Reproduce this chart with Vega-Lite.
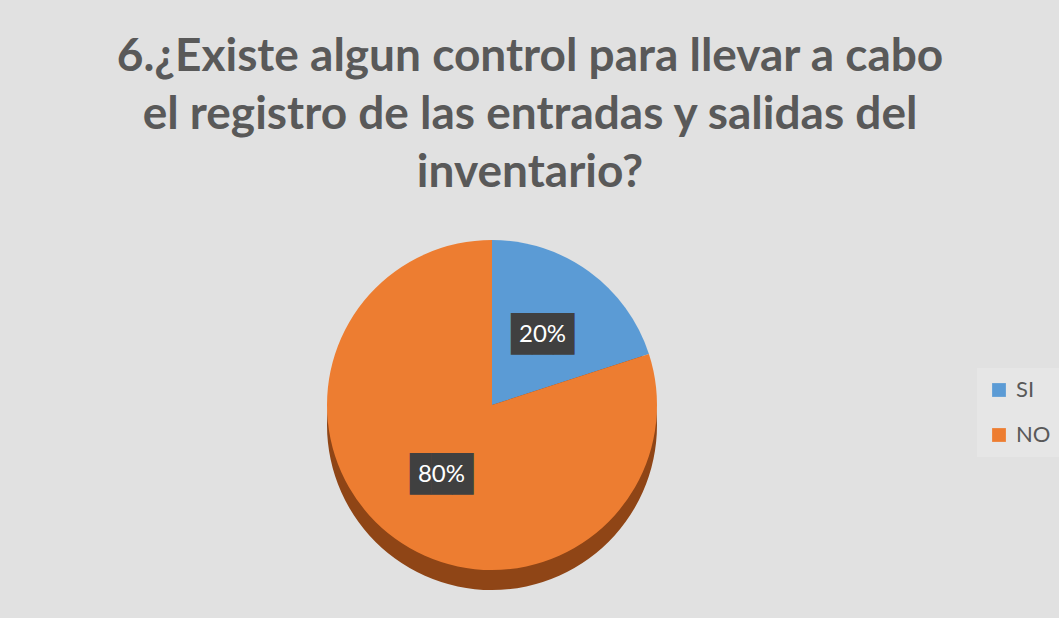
{
  "$schema": "https://vega.github.io/schema/vega-lite/v6.json",
  "width": 984,
  "height": 414,
  "autosize": "none",
  "padding": {"left": 0, "top": 198, "right": 75, "bottom": 6},
  "background": "#e1e1e1",
  "title": {
    "text": ["6.¿Existe algun control  para llevar a cabo", "el registro de las entradas y salidas del", "inventario?"],
    "font": "Lato",
    "fontWeight": "bold",
    "fontSize": 46,
    "color": "#595959",
    "lineHeight": 58,
    "anchor": "middle",
    "frame": "group",
    "dx": 38,
    "dy": 45,
    "offset": 0,
    "baseline": "bottom"
  },
  "data": {
    "values": [
      {"respuesta": "SI", "porcentaje": 20, "etiqueta": "20%", "orden": 1},
      {"respuesta": "NO", "porcentaje": 80, "etiqueta": "80%", "orden": 2}
    ]
  },
  "encoding": {
    "theta": {"field": "porcentaje", "type": "quantitative", "stack": true},
    "order": {"field": "orden", "type": "quantitative"}
  },
  "layer": [
    {
      "mark": {"type": "arc", "radius": 165, "yOffset": 20, "color": "#8f4516"}
    },
    {
      "mark": {"type": "arc", "radius": 165},
      "encoding": {
        "color": {
          "field": "respuesta",
          "type": "nominal",
          "scale": {"domain": ["SI", "NO"], "range": ["#5B9BD5", "#ED7D31"]},
          "legend": {
            "orient": "none",
            "legendX": 977,
            "legendY": 170,
            "title": null,
            "fillColor": "#e6e6e6",
            "padding": 11,
            "symbolType": "square",
            "symbolSize": 190,
            "symbolStrokeWidth": 0,
            "symbolOpacity": 1,
            "labelFont": "Lato",
            "labelFontSize": 22,
            "labelColor": "#595959",
            "rowPadding": 23,
            "labelOffset": 6
          }
        }
      }
    },
    {
      "mark": {"type": "text", "radius": 86, "font": "DejaVu Sans Mono", "fontSize": 35, "color": "#404040"},
      "encoding": {"text": {"value": "███"}}
    },
    {
      "mark": {"type": "text", "radius": 86, "font": "Lato", "fontSize": 24, "color": "#ffffff"},
      "encoding": {"text": {"field": "etiqueta", "type": "nominal"}}
    }
  ]
}
